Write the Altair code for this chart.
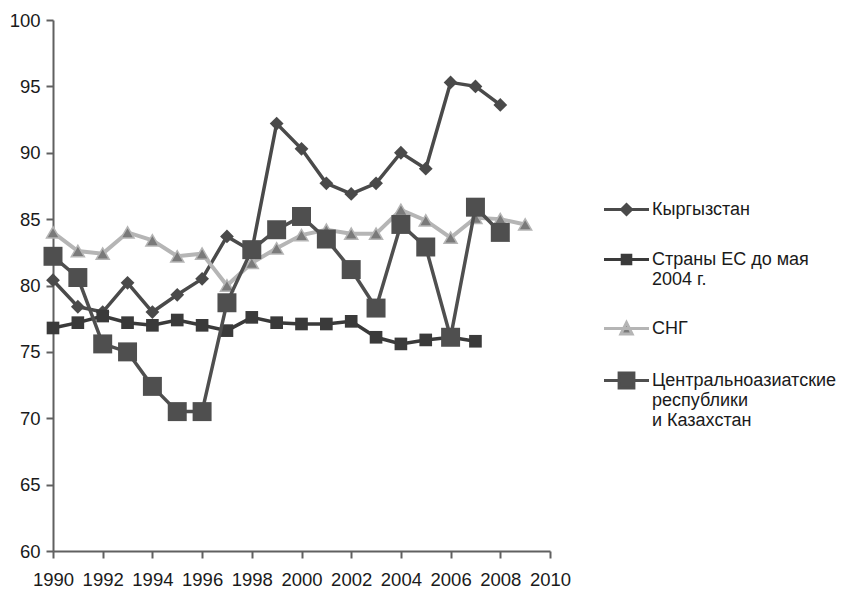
import altair as alt
import pandas as pd

series_names = [
    "Кыргызстан",
    "Страны ЕС до мая 2004 г.",
    "СНГ",
    "Центральноазиатские республики и Казахстан",
]

kg_years = list(range(1990, 2009))
kg_values = [80.4, 78.4, 78.0, 80.2, 78.0, 79.3, 80.5, 83.7, 82.6, 92.2,
             90.3, 87.7, 86.9, 87.7, 90.0, 88.8, 95.3, 95.0, 93.6]

eu_years = list(range(1990, 2008))
eu_values = [76.8, 77.2, 77.7, 77.2, 77.0, 77.4, 77.0, 76.6, 77.6, 77.2,
             77.1, 77.1, 77.3, 76.1, 75.6, 75.9, 76.1, 75.8]

cis_years = list(range(1990, 2010))
cis_values = [84.0, 82.6, 82.4, 84.0, 83.4, 82.2, 82.4, 80.0, 81.7, 82.8,
              83.8, 84.2, 83.9, 83.9, 85.7, 84.9, 83.6, 85.1, 85.0, 84.6]

ca_years = list(range(1990, 2009))
ca_values = [82.2, 80.6, 75.6, 75.0, 72.4, 70.5, 70.5, 78.7, 82.7, 84.2,
             85.2, 83.5, 81.2, 78.3, 84.6, 82.9, 76.1, 85.9, 84.0]

x_ticks = list(range(1990, 2011, 2))
y_ticks = list(range(60, 101, 5))

rows = []
for name, ys, vs in zip(series_names,
                        [kg_years, eu_years, cis_years, ca_years],
                        [kg_values, eu_values, cis_values, ca_values]):
    for y, v in zip(ys, vs):
        rows.append({"series": name, "year": y, "value": v})
df = pd.DataFrame(rows)

FONT = "Liberation Sans"

line_colors = ["#4a4a4a", "#3a3a3a", "#b5b5b5", "#4f4f4f"]
marker_colors = ["#4a4a4a", "#3a3a3a", "#7a7a7a", "#4f4f4f"]
marker_shapes = ["diamond", "square", "triangle-up", "square"]
marker_sizes = [190, 160, 170, 360]
line_widths = [3.5, 3.5, 4, 3.5]

x_enc = alt.X("year:Q",
              scale=alt.Scale(domain=[1990, 2010], nice=False, zero=False),
              axis=alt.Axis(values=x_ticks, format="d", title=None, grid=False,
                            labelFlush=False, labelOverlap=False,
                            labelPadding=12))
y_enc = alt.Y("value:Q",
              scale=alt.Scale(domain=[60, 100], nice=False, zero=False),
              axis=alt.Axis(values=y_ticks, title=None, grid=False,
                            labelPadding=6))

base = alt.Chart(df)
layers = []
for i, name in enumerate(series_names):
    sub = base.transform_filter(alt.datum.series == name)
    layers.append(sub.mark_line(color=line_colors[i], strokeWidth=line_widths[i]).encode(x=x_enc, y=y_enc))
    if marker_shapes[i] == "triangle-up":
        pt = sub.mark_point(shape="triangle-up", filled=True, fill=marker_colors[i],
                            stroke=line_colors[i], strokeWidth=1.5,
                            size=marker_sizes[i], opacity=1)
    else:
        pt = sub.mark_point(shape=marker_shapes[i], filled=True, color=marker_colors[i],
                            size=marker_sizes[i], opacity=1)
    layers.append(pt.encode(x=x_enc, y=y_enc))

# legend symbols: 20px symbol box (scale 10), line extends to 45px
legend_paths = [
    "M-2.25,0H2.25M-0.5,0L0,-0.5L0.5,0L0,0.5Z",
    "M-2.25,0H2.25M-0.43,-0.43H0.43V0.43H-0.43Z",
    "M-2.25,0H2.25M-0.56,0.54L0,-0.58L0.56,0.54Z",
    "M-2.25,0H2.25M-0.74,-0.74H0.74V0.74H-0.74Z",
]
label_expr = (
    "datum.label == 'Страны ЕС до мая 2004 г.' ? ['Страны ЕС до мая', '2004 г.'] : "
    "datum.label == 'Центральноазиатские республики и Казахстан' ? "
    "['Центральноазиатские', 'республики', 'и Казахстан'] : datum.label"
)
leg = alt.Legend(title=None, labelExpr=label_expr)

legend_layer = base.transform_filter("datum.year < 0").mark_point(
    filled=True, opacity=1).encode(
    shape=alt.Shape("series:N", scale=alt.Scale(domain=series_names, range=legend_paths), legend=leg),
    fill=alt.Fill("series:N", scale=alt.Scale(domain=series_names, range=marker_colors), legend=leg),
    stroke=alt.Stroke("series:N", scale=alt.Scale(domain=series_names, range=line_colors), legend=leg),
)
layers.append(legend_layer)

chart = alt.layer(*layers).properties(
    width=497, height=531,
    autosize=alt.AutoSizeParams(type="none"),
    padding={"left": 45, "top": 12, "right": 296, "bottom": 40},
).configure_view(stroke=None).configure_axis(
    domainColor="#606060", domainWidth=2, tickColor="#606060", tickWidth=2,
    tickSize=7, labelFont=FONT, labelFontSize=18.5, labelColor="#1a1a1a",
).configure_legend(
    orient="none", legendX=562, legendY=178, padding=0,
    symbolSize=400, symbolStrokeWidth=3, labelFont=FONT, labelFontSize=18,
    labelColor="#1a1a1a", labelOffset=14, rowPadding=27, labelLimit=400,
)

chart.save("out.html", embed_options={"renderer": "svg", "actions": False})
